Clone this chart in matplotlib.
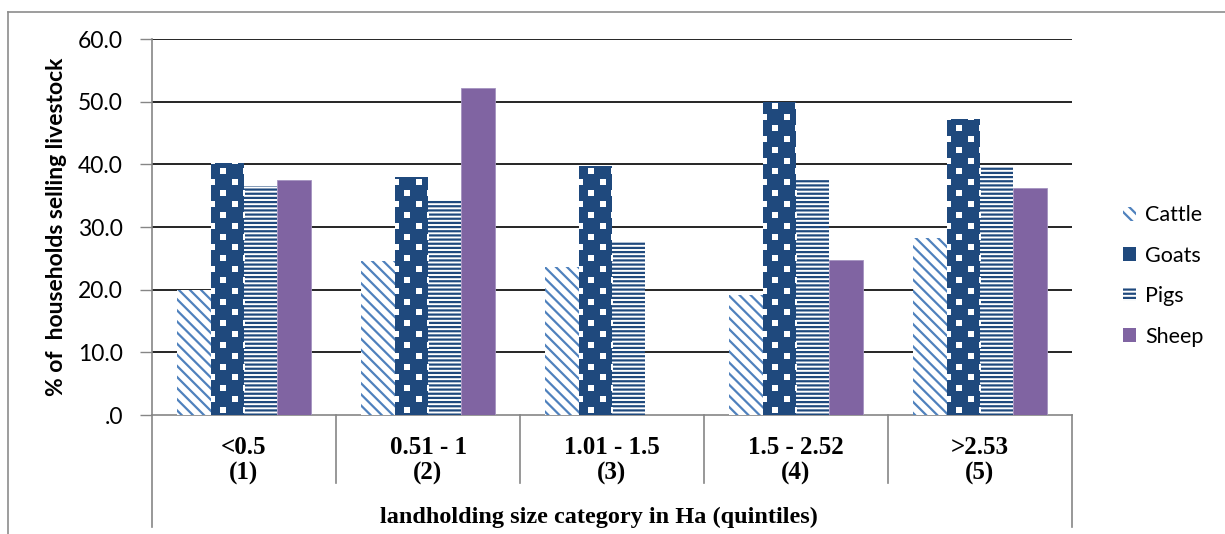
import numpy as np
import matplotlib
matplotlib.use("Agg")
import matplotlib.pyplot as plt
from matplotlib.patches import Patch
from matplotlib.lines import Line2D
from matplotlib.transforms import blended_transform_factory

# landholding quintiles and share of households selling each livestock type
categories = ["<0.5", "0.51 - 1", "1.01 - 1.5", "1.5 - 2.52", ">2.53"]
quintiles = ["(1)", "(2)", "(3)", "(4)", "(5)"]
series = ["Cattle", "Goats", "Pigs", "Sheep"]
cattle = [20.0, 24.6, 23.6, 19.1, 28.2]
goats = [40.2, 38.0, 39.7, 50.0, 47.3]
pigs = [36.5, 34.3, 27.6, 37.5, 39.5]
sheep = [37.5, 52.2, 0.0, 24.8, 36.3]
yticks = [0, 10, 20, 30, 40, 50, 60]

LIGHT_BLUE = "#4F81BD"
DARK_BLUE = "#1F497D"
PURPLE = "#8064A2"
GRID_GREY = "#868686"
SANS = ["Lato", "DejaVu Sans"]
SERIF = ["Liberation Serif", "DejaVu Serif"]

plt.rcParams["font.family"] = SANS
plt.rcParams["hatch.linewidth"] = 1.6

fig = plt.figure(figsize=(12.25, 5.34), dpi=100)
ax = fig.add_axes([152 / 1225, 1 - 415 / 534, 920 / 1225, 376 / 534])

x = np.arange(len(categories))
w = 0.181
styles = [
    dict(color="white", edgecolor=LIGHT_BLUE, hatch="\\\\\\"),
    dict(color=DARK_BLUE, edgecolor=DARK_BLUE, hatch=None),
    dict(color="white", edgecolor=DARK_BLUE, hatch="----"),
    dict(color=PURPLE, edgecolor="#A493C0", hatch=None),
]
containers = []
for i, (vals, st) in enumerate(zip([cattle, goats, pigs, sheep], styles)):
    bars = ax.bar(x + (i - 1.5) * w, vals, w, color=st["color"],
                  edgecolor=st["edgecolor"], hatch=st["hatch"],
                  linewidth=0.6 if i == 3 else 0, zorder=3)
    containers.append(bars)

# white square dots on the goat bars, a staggered lattice clipped to each bar
dx, dy = 0.125, 1.73
rows = np.arange(0, 36)
px, py = [], []
for j in rows:
    xs = np.arange(-0.614, 4.6, dx) + (dx / 2 if j % 2 else 0)
    px.extend(xs)
    py.extend(np.full_like(xs, 0.8 + j * dy))
px, py = np.array(px), np.array(py)
for b in containers[1]:
    sc = ax.scatter(px, py, s=14, marker="s", color="white", linewidths=0,
                    zorder=4)
    sc.set_clip_path(b)

ax.set_xlim(-0.5, len(categories) - 0.5)
ax.set_ylim(0, 60)
ax.set_yticks(yticks)
ax.set_yticklabels([f"{v:.1f}".lstrip("0") if v == 0 else f"{v:.1f}"
                    for v in yticks])
ax.tick_params(axis="y", direction="out", length=9, width=1, color=GRID_GREY,
               labelsize=16.5, pad=12)
ax.set_xticks([])
for v in yticks[1:]:
    ax.axhline(v, color="black", lw=1.2, zorder=2)
for s in ("top", "right"):
    ax.spines[s].set_visible(False)
for s in ("left", "bottom"):
    ax.spines[s].set_color(GRID_GREY)
    ax.spines[s].set_linewidth(1.2)

ax.set_ylabel("% of  households selling livestock", fontsize=16.5,
              fontweight="bold", labelpad=8)

# two-level category axis: group separators and labels below the plot
trans = blended_transform_factory(ax.transData, ax.transAxes)
edges = np.arange(len(categories) + 1) - 0.5
for k, e in enumerate(edges):
    lo = -0.298 if k in (0, len(edges) - 1) else -0.181
    ax.add_line(Line2D([e, e], [0, lo], transform=trans, color=GRID_GREY,
                       lw=1.2, clip_on=False))
for xi, c, q in zip(x, categories, quintiles):
    ax.text(xi, -0.055, f"{c}\n{q}", transform=trans, ha="center", va="top",
            fontsize=18, fontweight="bold", family=SERIF, linespacing=1.15)
ax.text(1.93, -0.272, "landholding size category in Ha (quintiles)",
        transform=trans, ha="center", va="center", fontsize=17.5,
        fontweight="bold", family=SERIF)

handles = [
    Patch(facecolor="white", edgecolor=LIGHT_BLUE, hatch="\\\\\\", lw=0),
    Patch(facecolor=DARK_BLUE, lw=0),
    Patch(facecolor="white", edgecolor=DARK_BLUE, hatch="----", lw=0),
    Patch(facecolor=PURPLE, lw=0),
]
fig.legend(handles, series, loc="center left",
           bbox_to_anchor=(1112 / 1225, 1 - 276 / 534), frameon=False,
           fontsize=15.5, handlelength=0.6, handleheight=0.6,
           handletextpad=0.45, labelspacing=0.95, borderpad=0)

# outer chart frame
fig.add_artist(Line2D([7.5 / 1225, 7.5 / 1225], [0, 1 - 12 / 534],
                      transform=fig.transFigure, color="#8C8C8C", lw=1.2))
fig.add_artist(Line2D([7.5 / 1225, 1], [1 - 12 / 534, 1 - 12 / 534],
                      transform=fig.transFigure, color="#8C8C8C", lw=1.2))

fig.savefig("out.png", dpi=100)
